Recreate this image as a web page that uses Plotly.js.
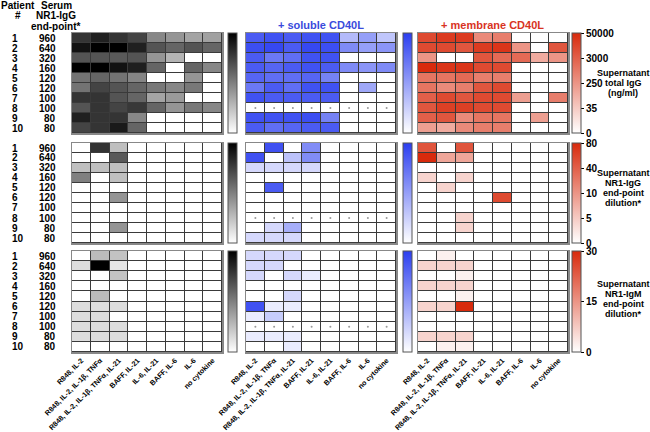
<!DOCTYPE html>
<html><head><meta charset="utf-8">
<script src="https://cdn.plot.ly/plotly-3.0.1.min.js"></script>
<style>html,body{margin:0;padding:0;background:#fff}#chart{width:650px;height:432px}</style>
</head><body><div id="chart"></div>
<script>
const conditions = ["R848, IL-2", "R848, IL-2, IL-1β, TNFα", "R848, IL-2, IL-1β, TNFα, IL-21",
  "BAFF, IL-21", "IL-6, IL-21", "BAFF, IL-6", "IL-6", "no cytokine"];
const patients = ["1","2","3","4","5","6","7","8","9","10"];
const serumEndPoint = [960, 640, 320, 160, 120, 120, 100, 100, 80, 80];
const groupTitles = ["", "+ soluble CD40L", "+ membrane CD40L"];
const readoutTitles = [["Supernatant", "total IgG", "(ng/ml)"], ["Supernatant", "NR1-IgG", "end-point", "dilution*"], ["Supernatant", "NR1-IgM", "end-point", "dilution*"]];
const headerPatient = ["Patient", "#"];
const headerSerum = ["Serum", "NR1-IgG", "end-point*"];

// Supernatant total IgG (ng/ml), rows = patients, cols = conditions; null = not tested
const totalIgG_medium = [
  [5000, 12000, 5000, 2500, 200, 130, 80, 90],
  [23000, 50000, 50000, 12000, 1350, 700, 1350, 700],
  [1350, 1350, 1100, 1350, 130, 50, 0, 0],
  [50000, 50000, 23000, 13000, 700, 0, 700, 200],
  [400, 700, 400, 210, 0, 0, 130, 0],
  [400, 2500, 1350, 700, 340, 200, 340, 0],
  [5000, 5000, 1350, 700, 80, 110, 0, 0],
  [1350, 5000, 2500, 4200, 700, 130, 340, 200],
  [12000, 5000, 5000, 200, 0, 0, 0, 0],
  [2500, 5000, 16000, 700, 0, 0, 0, 0]];
const totalIgG_soluble = [
  [9000, 16000, 9000, 16000, 16000, 80, 250, 50],
  [20000, 28000, 9000, 28000, 20000, 700, 250, 400],
  [9000, 1800, 3000, 16000, 16000, 0, 0, 0],
  [9000, 5000, 9000, 16000, 9000, 700, 400, 700],
  [5000, 3000, 3000, 5000, 1100, 0, 0, 0],
  [1800, 9000, 3000, 16000, 16000, 0, 170, 0],
  [16000, 9000, 9000, 9000, 9000, 0, 0, 0],
  [null, null, null, null, null, null, null, null],
  [16000, 16000, 16000, 20000, 1100, 0, 0, 0],
  [9000, 3000, 5000, 9000, 9000, 0, 0, 0]];
const totalIgG_membrane = [
  [9000, 20000, 20000, 400, 700, 0, 0, 0],
  [9000, 9000, 5000, 20000, 28000, 250, 0, 5000],
  [250, 0, 0, 5000, 1800, 1800, 110, 250],
  [50000, 28000, 28000, 9000, 9000, 0, 0, 0],
  [1100, 1100, 1800, 700, 700, 0, 0, 0],
  [1100, 400, 700, 5000, 9000, 0, 0, 0],
  [3000, 9000, 5000, 9000, 9000, 170, 0, 700],
  [5000, 16000, 16000, 9000, 9000, 0, 0, 0],
  [3000, 5000, 400, 1100, 1100, 0, 170, 0],
  [170, 110, 400, 700, 700, 0, 0, 0]];

// Supernatant NR1-IgG end-point dilution
const nr1IgG_medium = [
  [0, 46, 5, 0, 0, 0, 0, 0],
  [0, 0, 23, 0, 0, 0, 0, 0],
  [5, 5, 5, 0, 0, 0, 0, 0],
  [10, 0, 5, 0, 0, 0, 0, 0],
  [0, 0, 0, 0, 0, 0, 0, 0],
  [0, 0, 8, 0, 0, 0, 0, 0],
  [0, 0, 0, 0, 0, 0, 0, 0],
  [0, 0, 0, 0, 0, 0, 0, 0],
  [0, 0, 8, 0, 0, 0, 0, 0],
  [0, 0, 0, 0, 0, 0, 0, 0]];
const nr1IgG_soluble = [
  [0, 61, 0, 17, 0, 0, 0, 0],
  [61, 0, 6, 17, 0, 0, 0, 0],
  [4, 4, 4, 4, 0, 0, 0, 0],
  [0, 0, 0, 0, 0, 0, 0, 0],
  [0, 53, 0, 0, 0, 0, 0, 0],
  [0, 0, 0, 0, 0, 0, 0, 0],
  [0, 0, 0, 0, 0, 0, 0, 0],
  [null, null, null, null, null, null, null, null],
  [0, 4, 8, 0, 0, 0, 0, 0],
  [4, 4, 4, 0, 0, 0, 0, 0]];
const nr1IgG_membrane = [
  [46, 0, 46, 0, 0, 0, 0, 0],
  [80, 8, 8, 0, 0, 0, 0, 0],
  [0, 0, 0, 0, 0, 0, 0, 0],
  [4, 0, 4, 0, 0, 0, 0, 0],
  [0, 4, 0, 0, 0, 0, 0, 0],
  [0, 0, 0, 0, 53, 0, 0, 0],
  [0, 0, 0, 0, 0, 0, 0, 0],
  [0, 0, 4, 0, 0, 0, 0, 0],
  [0, 0, 4, 0, 0, 0, 0, 0],
  [0, 0, 0, 0, 0, 0, 0, 0]];

// Supernatant NR1-IgM end-point dilution
const nr1IgM_medium = [
  [0, 8, 7, 0, 0, 0, 0, 0],
  [4, 30, 3, 0, 0, 0, 0, 0],
  [0, 0, 7, 0, 0, 0, 0, 0],
  [0, 0, 0, 0, 0, 0, 0, 0],
  [0, 8, 0, 0, 0, 0, 0, 0],
  [4, 4, 4, 0, 0, 0, 0, 0],
  [4, 4, 0, 0, 0, 0, 0, 0],
  [4, 4, 4, 0, 0, 0, 0, 0],
  [4, 4, 4, 0, 0, 0, 0, 0],
  [0, 0, 0, 0, 0, 0, 0, 0]];
const nr1IgM_soluble = [
  [6, 6, 6, 0, 0, 0, 0, 0],
  [6, 6, 0, 0, 0, 0, 0, 0],
  [6, 0, 6, 3, 0, 0, 0, 0],
  [0, 0, 0, 0, 0, 0, 0, 0],
  [0, 0, 6, 0, 0, 0, 0, 0],
  [27, 3, 3, 0, 0, 0, 0, 0],
  [3, 8, 0, 0, 0, 0, 0, 0],
  [null, null, null, null, null, null, null, null],
  [3, 3, 3, 0, 0, 0, 0, 0],
  [0, 0, 3, 0, 0, 0, 0, 0]];
const nr1IgM_membrane = [
  [0, 2, 0, 0, 0, 0, 0, 0],
  [6, 6, 6, 0, 0, 0, 0, 0],
  [0, 0, 2, 0, 0, 0, 0, 0],
  [6, 6, 6, 0, 0, 0, 0, 0],
  [0, 0, 2, 0, 0, 0, 0, 0],
  [6, 6, 30, 0, 0, 0, 0, 0],
  [0, 0, 0, 0, 0, 0, 0, 0],
  [0, 0, 0, 0, 0, 0, 0, 0],
  [6, 6, 6, 0, 0, 0, 0, 0],
  [0, 2, 2, 0, 0, 0, 0, 0]];

const totalIgGTicks = [0, 35, 250, 3000, 50000];
const nr1IgGTicks = [0, 5, 10, 40, 80];
const nr1IgMTicks = [0, 15, 30];

// ---------- build ----------
const W = 650, H = 432;
const colPx = [[72, 222], [246, 396], [418, 568]];
const rowPx = [[33, 133], [143, 243], [251, 352]];
const readoutCenterPx = [83, 188, 299];
const cbPx = [228, 403, 572];
const colorscales = [
  [[0, '#ffffff'], [1, '#000000']],
  [[0, '#ffffff'], [1, '#2b3ef0']],
  [[0, '#ffffff'], [1, '#d82a0c']]];
const titleColors = ['#000', '#3a4bdc', '#d8331f'];
const rows = [
  {data: [totalIgG_medium, totalIgG_soluble, totalIgG_membrane], ticks: totalIgGTicks, log: true},
  {data: [nr1IgG_medium, nr1IgG_soluble, nr1IgG_membrane], ticks: nr1IgGTicks, log: true},
  {data: [nr1IgM_medium, nr1IgM_soluble, nr1IgM_membrane], ticks: nr1IgMTicks, log: false}];

function toLevel(v, ticks, logScale) {
  if (v === null || v === undefined || v <= 0) return 0;
  const n = ticks.length;
  if (v >= ticks[n - 1]) return 1;
  for (let i = 0; i < n - 1; i++) {
    const lo = ticks[i], hi = ticks[i + 1];
    if (v <= hi) {
      const f = (lo === 0 || !logScale) ? (v - lo) / (hi - lo) : Math.log(v / lo) / Math.log(hi / lo);
      return (i + f) / (n - 1);
    }
  }
  return 1;
}

const FONT = 'Liberation Sans, Arial, sans-serif';
const traces = [];
const layout = {
  width: W, height: H, margin: {l: 0, r: 0, t: 0, b: 0},
  paper_bgcolor: '#fff', plot_bgcolor: '#3a3a3a', showlegend: false,
  font: {family: FONT, size: 10, color: '#000'},
  annotations: []
};
function label(text, xPx, yPx, anchor, size, color) {
  layout.annotations.push({xref: 'paper', yref: 'paper', x: xPx / W, y: 1 - yPx / H,
    xanchor: anchor, yanchor: 'middle', text: text, showarrow: false,
    font: {family: FONT, size: size, weight: 'bold', color: color || '#000'}});
}
const xIdx = conditions.map((_, i) => i);
const yIdx = patients.map((_, i) => i);

rows.forEach((row, r) => {
  const n = row.ticks.length;
  const tickvals = row.ticks.map((_, i) => i / (n - 1));
  const ticktext = row.ticks.map(String);
  row.data.forEach((mat, c) => {
    const k = r * 3 + c + 1;
    const xa = 'x' + (k === 1 ? '' : k), ya = 'y' + (k === 1 ? '' : k);
    const z = mat.map(rw => rw.map(v => toLevel(v, row.ticks, row.log)));
    traces.push({
      type: 'heatmap', x: xIdx, y: yIdx, z: z, xaxis: xa, yaxis: ya,
      zmin: 0, zmax: 1, colorscale: colorscales[c], xgap: 1, ygap: 1, hoverinfo: 'skip',
      colorbar: {
        x: cbPx[c] / W, xanchor: 'left', xref: 'paper', xpad: 0, ypad: 0,
        y: 1 - (rowPx[r][0] + rowPx[r][1]) / 2 / H, yanchor: 'middle', yref: 'paper',
        len: (rowPx[r][1] - rowPx[r][0]) / H, lenmode: 'fraction', thickness: 9,
        outlinecolor: '#555', outlinewidth: 1,
        tickvals: tickvals, ticktext: ticktext,
        showticklabels: c === 2, ticks: c === 2 ? 'outside' : '', ticklen: 3, tickcolor: '#000',
        tickfont: {family: FONT, size: 10, weight: 'bold', color: '#000'}
      }
    });
    // not-tested cells
    const dx = [], dy = [];
    mat.forEach((rw, i) => rw.forEach((v, j) => { if (v === null) { dx.push(j); dy.push(i); } }));
    if (dx.length) traces.push({type: 'scatter', mode: 'markers', x: dx, y: dy, xaxis: xa, yaxis: ya,
      marker: {size: 2, color: '#999'}, hoverinfo: 'skip'});
    layout['xaxis' + (k === 1 ? '' : k)] = {
      domain: [colPx[c][0] / W, colPx[c][1] / W], anchor: ya, range: [-0.5, 7.5],
      showgrid: false, zeroline: false, showline: true, mirror: true, linecolor: '#888', linewidth: 1.5,
      tickvals: xIdx, ticktext: conditions, showticklabels: r === 2, ticks: '', tickangle: -45,
      tickfont: {family: FONT, size: 7.2, weight: 'bold', color: '#000'}, fixedrange: true
    };
    layout['yaxis' + (k === 1 ? '' : k)] = {
      domain: [1 - rowPx[r][1] / H, 1 - rowPx[r][0] / H], anchor: xa, range: [9.5, -0.5],
      showgrid: false, zeroline: false, showline: true, mirror: true, linecolor: '#888', linewidth: 1.5,
      showticklabels: false, ticks: '', fixedrange: true
    };
  });
  // patient labels
  patients.forEach((p, i) => {
    const yPx = rowPx[r][0] + (i + 0.5) * (rowPx[r][1] - rowPx[r][0]) / 10;
    label(p, 10, yPx, 'left', 10);
    label(String(serumEndPoint[i]), 58, yPx, 'right', 10);
  });
  const lines = readoutTitles[r];
  lines.forEach((t, i) => label(t, 623, readoutCenterPx[r] + (i - (lines.length - 1) / 2) * 10, 'center', 9));
});
groupTitles.forEach((t, c) => {
  if (t) label(t, (colPx[c][0] + colPx[c][1]) / 2, 25, 'center', 11, titleColors[c]);
});
headerPatient.forEach((t, i) => label(t, 18, 6 + i * 10, 'center', 10));
headerSerum.forEach((t, i) => label(t, 56, 6 + i * 10, 'center', 10));

Plotly.newPlot('chart', traces, layout, {staticPlot: true, displayModeBar: false});
</script></body></html>
